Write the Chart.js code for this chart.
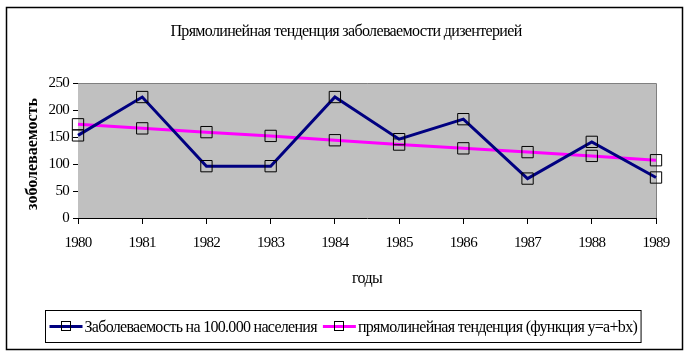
<!DOCTYPE html>
<html>
<head>
<meta charset="utf-8">
<script src="https://cdn.jsdelivr.net/npm/chart.js@4/dist/chart.umd.min.js"></script>
<style>
html,body{margin:0;padding:0;background:#fff;}
#wrap{width:689px;height:356px;}
</style>
</head>
<body>
<div id="wrap"><canvas id="c" width="689" height="356"></canvas></div>
<script>
// ---- data ----
const years = ['1980','1981','1982','1983','1984','1985','1986','1987','1988','1989'];
const incidence = [153, 224, 96, 96, 224, 146, 183, 73, 141, 75];
const trend = [173.5, 166, 159, 152, 144, 136, 129, 122, 115, 107];
const yTicks = [0, 50, 100, 150, 200, 250];
const chartTitle = 'Прямолинейная тенденция заболеваемости дизентерией';
const xTitle = 'годы';
const yTitle = 'зоболеваемость';
const seriesNames = ['Заболеваемость на 100.000 населения', 'прямолинейная тенденция (функция y=a+bx)'];
const seriesColors = ['#000080', '#FF00FF'];

const SERIF = '"Liberation Serif", "Times New Roman", serif';

const decor = {
  id: 'decor',
  beforeDraw(chart) {
    chart.ctx.letterSpacing = '-0.7px';
  },
  beforeDatasetsDraw(chart) {
    const {ctx, chartArea: a} = chart;
    ctx.save();
    ctx.fillStyle = '#C0C0C0';
    ctx.fillRect(a.left, a.top, a.right - a.left, a.bottom - a.top);
    ctx.strokeStyle = '#808080';
    ctx.lineWidth = 1;
    ctx.beginPath();
    ctx.moveTo(a.left, a.top + 0.5);
    ctx.lineTo(a.right + 0.5, a.top + 0.5);
    ctx.lineTo(a.right + 0.5, a.bottom);
    ctx.stroke();
    ctx.restore();
  },
  afterDraw(chart) {
    const {ctx, chartArea: a} = chart;
    ctx.save();
    // outer frame
    ctx.strokeStyle = '#000';
    ctx.lineWidth = 1.5;
    ctx.strokeRect(6.5, 7.5, 676, 342);
    ctx.fillStyle = '#000';
    // title
    ctx.letterSpacing = '-0.65px';
    ctx.font = '16px ' + SERIF;
    ctx.textAlign = 'center';
    ctx.textBaseline = 'alphabetic';
    ctx.fillText(chartTitle, 346, 36);
    // x title
    ctx.font = '16px ' + SERIF;
    ctx.fillText(xTitle, (a.left + a.right) / 2, 283);
    // y title
    ctx.save();
    ctx.letterSpacing = '0px';
    ctx.translate(37, 154);
    ctx.rotate(-Math.PI / 2);
    ctx.font = 'bold 16px ' + SERIF;
    ctx.fillText(yTitle, 0, 0);
    ctx.restore();
    // legend
    ctx.letterSpacing = '-0.7px';
    ctx.font = '16px ' + SERIF;
    const w1 = ctx.measureText(seriesNames[0]).width;
    const w2 = ctx.measureText(seriesNames[1]).width;
    const sw = 33, pad = 4, gapT = 2, gapI = 6;
    const total = pad + sw + gapT + w1 + gapI + sw + gapT + w2 + pad;
    const left = Math.round(343 - total / 2) + 0.5;
    const top = 310.5, bottom = 342.5, midY = 326.5;
    ctx.lineWidth = 1;
    ctx.strokeStyle = '#000';
    ctx.strokeRect(left, top, total, bottom - top);
    let x = left + pad;
    ctx.textAlign = 'left';
    ctx.textBaseline = 'middle';
    [w1, w2].forEach((w, i) => {
      ctx.strokeStyle = seriesColors[i];
      ctx.lineWidth = 3;
      ctx.beginPath();
      ctx.moveTo(x, midY);
      ctx.lineTo(x + sw, midY);
      ctx.stroke();
      ctx.strokeStyle = '#000';
      ctx.lineWidth = 1;
      const cx = Math.round(x + sw / 2);
      ctx.strokeRect(cx - 4.5, midY - 5, 9, 9);
      ctx.fillStyle = '#000';
      ctx.fillText(seriesNames[i], x + sw + gapT, midY + 1);
      x += sw + gapT + w + gapI;
    });
    ctx.restore();
  }
};

const tickFont = {family: SERIF, size: 15};

new Chart(document.getElementById('c'), {
  type: 'line',
  data: {
    labels: years,
    datasets: [
      {
        label: seriesNames[0],
        data: incidence,
        borderColor: seriesColors[0],
        borderWidth: 3,
        pointStyle: 'rect',
        pointRadius: 8,
        pointBorderColor: '#000',
        pointBorderWidth: 1,
        pointBackgroundColor: 'rgba(0,0,0,0)',
        tension: 0,
        clip: false
      },
      {
        label: seriesNames[1],
        data: trend,
        borderColor: seriesColors[1],
        borderWidth: 3,
        pointStyle: 'rect',
        pointRadius: 8,
        pointBorderColor: '#000',
        pointBorderWidth: 1,
        pointBackgroundColor: 'rgba(0,0,0,0)',
        tension: 0,
        clip: false
      }
    ]
  },
  options: {
    responsive: false,
    animation: false,
    devicePixelRatio: 1,
    layout: {padding: {left: 0, right: 33, top: 83, bottom: 0}},
    plugins: {
      legend: {display: false},
      title: {display: false},
      tooltip: {enabled: false}
    },
    scales: {
      x: {
        type: 'category',
        offset: false,
        afterFit(s) { s.height = 138; },
        grid: {display: true, drawOnChartArea: false, drawTicks: true, tickLength: 6, color: '#000', offset: false},
        border: {display: true, color: '#000', width: 1},
        ticks: {color: '#000', font: tickFont, padding: 10, maxRotation: 0, autoSkip: false}
      },
      y: {
        min: 0,
        max: 250,
        afterFit(s) { s.width = 78; },
        afterBuildTicks(s) { s.ticks = yTicks.map(v => ({value: v})); },
        grid: {display: true, drawOnChartArea: false, drawTicks: true, tickLength: 5, color: '#000'},
        border: {display: true, color: '#000', width: 1},
        ticks: {color: '#000', font: tickFont, padding: 4}
      }
    }
  },
  plugins: [decor]
});
</script>
</body>
</html>
